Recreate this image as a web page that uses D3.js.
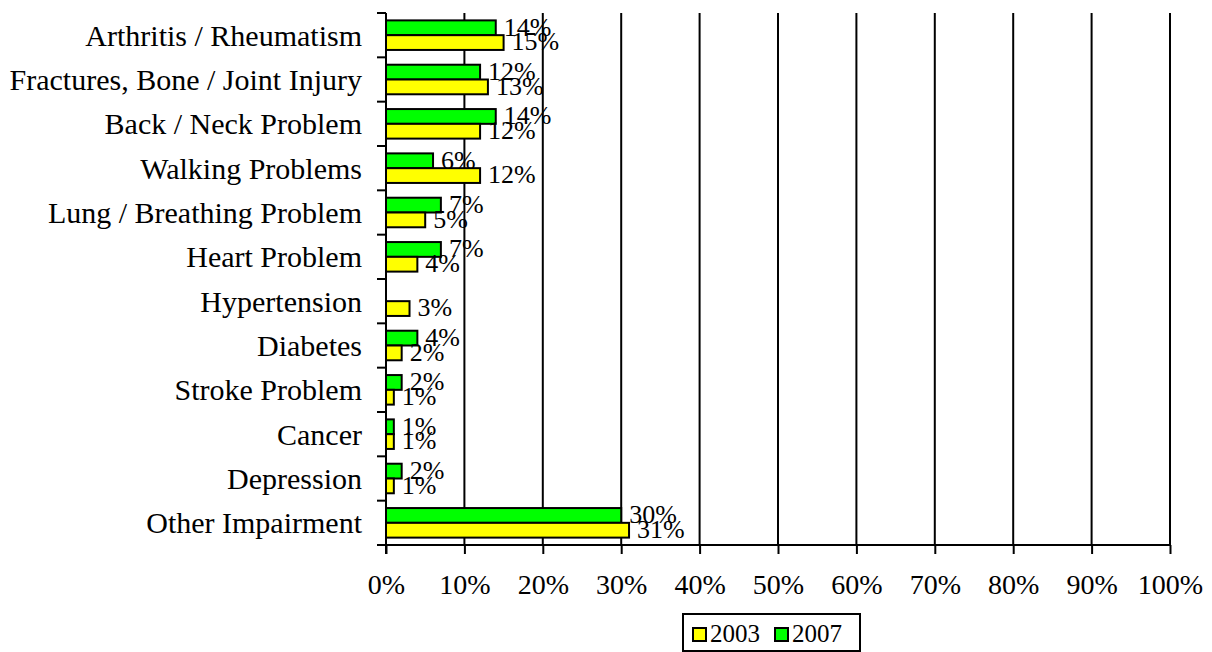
<!DOCTYPE html>
<html>
<head>
<meta charset="utf-8">
<script src="https://cdn.jsdelivr.net/npm/d3@7"></script>
<style>
  html, body { margin: 0; padding: 0; background: #fff; }
  svg { display: block; font-family: "Liberation Serif", "Times New Roman", serif; }
</style>
</head>
<body>
<svg id="chart" width="1212" height="652"></svg>
<script>
// Health conditions reported, share of respondents in 2003 and 2007
const categories = [
  "Arthritis / Rheumatism",
  "Fractures, Bone / Joint Injury",
  "Back / Neck Problem",
  "Walking Problems",
  "Lung / Breathing Problem",
  "Heart Problem",
  "Hypertension",
  "Diabetes",
  "Stroke Problem",
  "Cancer",
  "Depression",
  "Other Impairment"
];
const values2003 = [15, 13, 12, 12, 5, 4, 3, 2, 1, 1, 1, 31];
const values2007 = [14, 12, 14, 6, 7, 7, null, 4, 2, 1, 2, 30];
const seriesNames = ["2007", "2003"];           // top bar, bottom bar within a group
const legendNames = ["2003", "2007"];
const xTicks = [0, 10, 20, 30, 40, 50, 60, 70, 80, 90, 100];

const colors = { "2003": "#ffff00", "2007": "#00ff00" };

const svg = d3.select("#chart");
const plotLeft = 386, plotRight = 1170, plotTop = 13, plotBottom = 545;

const x = d3.scaleLinear().domain([0, 100]).range([plotLeft, plotRight]);
const y = d3.scaleBand().domain(categories).range([plotTop, plotBottom]).padding(0);
const ySub = d3.scaleBand().domain(seriesNames).range([0, y.bandwidth()]).paddingInner(0).paddingOuter(0.5);

const rows = categories.map((c, i) => ({
  cat: c,
  "2003": values2003[i],
  "2007": values2007[i]
}));

// vertical gridlines
svg.append("g")
  .selectAll("line")
  .data(xTicks.filter(t => t > 0))
  .join("line")
  .attr("x1", d => x(d)).attr("x2", d => x(d))
  .attr("y1", plotTop).attr("y2", plotBottom)
  .attr("stroke", "#000").attr("stroke-width", 2);

// bars
const groups = svg.append("g")
  .selectAll("g")
  .data(rows)
  .join("g")
  .attr("transform", d => `translate(0,${y(d.cat)})`);

groups.selectAll("rect")
  .data(d => seriesNames.filter(s => d[s] != null).map(s => ({ s, v: d[s] })))
  .join("rect")
  .attr("x", x(0))
  .attr("y", d => ySub(d.s))
  .attr("width", d => x(d.v) - x(0))
  .attr("height", ySub.bandwidth())
  .attr("fill", d => colors[d.s])
  .attr("stroke", "#000")
  .attr("stroke-width", 2);

// value labels
groups.selectAll("text")
  .data(d => seriesNames.filter(s => d[s] != null).map(s => ({ s, v: d[s] })))
  .join("text")
  .attr("x", d => x(d.v) + 8)
  .attr("y", d => ySub(d.s) + ySub.bandwidth() + 0.5)
  .attr("font-size", 26)
  .attr("fill", "#000")
  .text(d => d.v + "%");

// x axis
const xAxis = d3.axisBottom(x)
  .tickValues(xTicks)
  .tickFormat(d => d + "%")
  .tickSize(9)
  .tickPadding(20);

const gx = svg.append("g")
  .attr("transform", `translate(0,${plotBottom})`)
  .call(xAxis);
gx.select(".domain").remove();
gx.selectAll(".tick line").attr("stroke", "#000").attr("stroke-width", 2);
gx.selectAll(".tick text")
  .attr("font-size", 28)
  .attr("font-family", "Liberation Serif, Times New Roman, serif")
  .attr("fill", "#000");
gx.append("line")
  .attr("x1", plotLeft - 9).attr("x2", plotRight + 1)
  .attr("y1", 0).attr("y2", 0)
  .attr("stroke", "#000").attr("stroke-width", 2);

// y axis: line plus ticks at category boundaries
const boundaries = categories.map(c => y(c)).concat([plotBottom]);
const gy = svg.append("g");
gy.append("line")
  .attr("x1", plotLeft).attr("x2", plotLeft)
  .attr("y1", plotTop).attr("y2", plotBottom + 9)
  .attr("stroke", "#000").attr("stroke-width", 2);
gy.selectAll("line.tick")
  .data(boundaries)
  .join("line")
  .attr("class", "tick")
  .attr("x1", plotLeft - 9).attr("x2", plotLeft)
  .attr("y1", d => d).attr("y2", d => d)
  .attr("stroke", "#000").attr("stroke-width", 2);
gy.selectAll("text")
  .data(categories)
  .join("text")
  .attr("x", plotLeft - 24)
  .attr("y", d => y(d) + y.bandwidth() / 2)
  .attr("dy", "0.35em")
  .attr("text-anchor", "end")
  .attr("font-size", 30)
  .attr("fill", "#000")
  .text(d => d);

// legend
const legend = svg.append("g").attr("transform", "translate(683,614)");
legend.append("rect")
  .attr("width", 177).attr("height", 37)
  .attr("fill", "#fff").attr("stroke", "#000").attr("stroke-width", 2);
const items = legend.selectAll("g")
  .data(legendNames)
  .join("g")
  .attr("transform", (d, i) => `translate(${10 + i * 82},14)`);
items.append("rect")
  .attr("width", 13).attr("height", 13)
  .attr("fill", d => colors[d])
  .attr("stroke", "#000").attr("stroke-width", 2);
items.append("text")
  .attr("x", 17).attr("y", 14)
  .attr("font-size", 25)
  .attr("fill", "#000")
  .text(d => d);
</script>
</body>
</html>
